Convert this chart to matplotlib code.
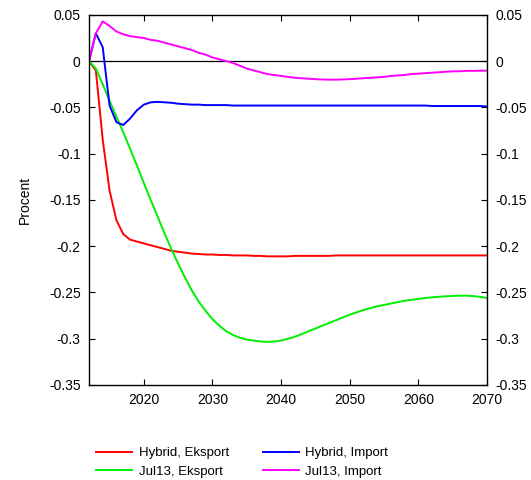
import matplotlib
matplotlib.use('Agg')
import matplotlib.pyplot as plt
import numpy as np

plt.rcParams['font.family'] = ['Liberation Sans', 'DejaVu Sans']

years = np.arange(2012, 2071)

hybrid_eksport = [0, -0.01, -0.085, -0.14, -0.172, -0.187, -0.193, -0.195, -0.197, -0.199,
                  -0.201, -0.203, -0.205, -0.206, -0.207, -0.208, -0.2085, -0.209, -0.209, -0.2095,
                  -0.2095, -0.21, -0.21, -0.21, -0.2105, -0.2105, -0.211, -0.211, -0.211, -0.211,
                  -0.2105, -0.2105, -0.2105, -0.2105, -0.2105, -0.2105, -0.21, -0.21, -0.21, -0.21,
                  -0.21, -0.21, -0.21, -0.21, -0.21, -0.21, -0.21, -0.21, -0.21, -0.21,
                  -0.21, -0.21, -0.21, -0.21, -0.21, -0.21, -0.21, -0.21, -0.21]

hybrid_import = [0, 0.03, 0.015, -0.048, -0.066, -0.069, -0.062, -0.053, -0.047, -0.0445,
                 -0.044, -0.0445, -0.045, -0.046, -0.0465, -0.047, -0.047, -0.0475, -0.0475, -0.0475,
                 -0.0475, -0.048, -0.048, -0.048, -0.048, -0.048, -0.048, -0.048, -0.048, -0.048,
                 -0.048, -0.048, -0.048, -0.048, -0.048, -0.048, -0.048, -0.048, -0.048, -0.048,
                 -0.048, -0.048, -0.048, -0.048, -0.048, -0.048, -0.048, -0.048, -0.048, -0.048,
                 -0.0485, -0.0485, -0.0485, -0.0485, -0.0485, -0.0485, -0.0485, -0.0485, -0.049]

jul13_eksport = [0, -0.008, -0.025, -0.043, -0.06, -0.077, -0.095, -0.113, -0.132, -0.15,
                 -0.168, -0.186, -0.203, -0.219, -0.234, -0.248, -0.26, -0.27, -0.279, -0.286,
                 -0.292, -0.296, -0.299, -0.301, -0.302, -0.303, -0.3035, -0.303, -0.302, -0.3,
                 -0.298, -0.295, -0.292, -0.289, -0.286, -0.283, -0.28, -0.277, -0.274, -0.2715,
                 -0.269, -0.267, -0.265, -0.2635, -0.262, -0.2605, -0.259, -0.258, -0.257, -0.256,
                 -0.2553, -0.2547, -0.2542, -0.2538, -0.2535, -0.2535, -0.254, -0.2548, -0.256]

jul13_import = [0, 0.03, 0.043, 0.038, 0.032, 0.029, 0.027, 0.026, 0.025, 0.023,
                0.022, 0.02, 0.018, 0.016, 0.014, 0.012, 0.009, 0.007, 0.004, 0.002,
                0.0, -0.002, -0.005, -0.008, -0.01, -0.012, -0.014, -0.015, -0.016, -0.017,
                -0.018, -0.0185, -0.019, -0.0195, -0.0198, -0.02, -0.02, -0.0198, -0.0195, -0.019,
                -0.0185, -0.018, -0.0175, -0.017, -0.016, -0.0155, -0.015, -0.014, -0.0135, -0.013,
                -0.0125, -0.012, -0.0115, -0.011, -0.011, -0.0105, -0.0105, -0.0103, -0.0103]

fig = plt.figure(figsize=(5.31, 4.8), dpi=100)
ax = fig.add_axes([0.1676, 0.198, 0.7494, 0.771])

ax.axhline(0, color='black', linewidth=0.9, zorder=1)
ax.plot(years, hybrid_eksport, color='#ff0000', linewidth=1.4, label='Hybrid, Eksport')
ax.plot(years, jul13_eksport, color='#00ee00', linewidth=1.4, label='Jul13, Eksport')
ax.plot(years, hybrid_import, color='#0000ff', linewidth=1.4, label='Hybrid, Import')
ax.plot(years, jul13_import, color='#ff00ff', linewidth=1.4, label='Jul13, Import')

ax.set_xlim(2012, 2070)
ax.set_ylim(-0.35, 0.05)
ax.set_xticks([2020, 2030, 2040, 2050, 2060, 2070])
yt = [0.05, 0, -0.05, -0.1, -0.15, -0.2, -0.25, -0.3, -0.35]
ax.set_yticks(yt)
ax.set_yticklabels(['%g' % v for v in yt])
ax.tick_params(direction='in', length=4, width=0.8, labelsize=10,
               top=True, right=True, labelright=True, pad=6)
for s in ax.spines.values():
    s.set_linewidth(1.0)

ax.set_ylabel('Procent', fontsize=10, labelpad=12)

h, l = ax.get_legend_handles_labels()
fig.legend(h, l, loc='upper left', bbox_to_anchor=(0.159, 0.093), ncol=2,
           frameon=False, fontsize=9.5, handlelength=2.7, columnspacing=2.6,
           labelspacing=0.45, handletextpad=0.5)

fig.savefig('out.png', dpi=100)
